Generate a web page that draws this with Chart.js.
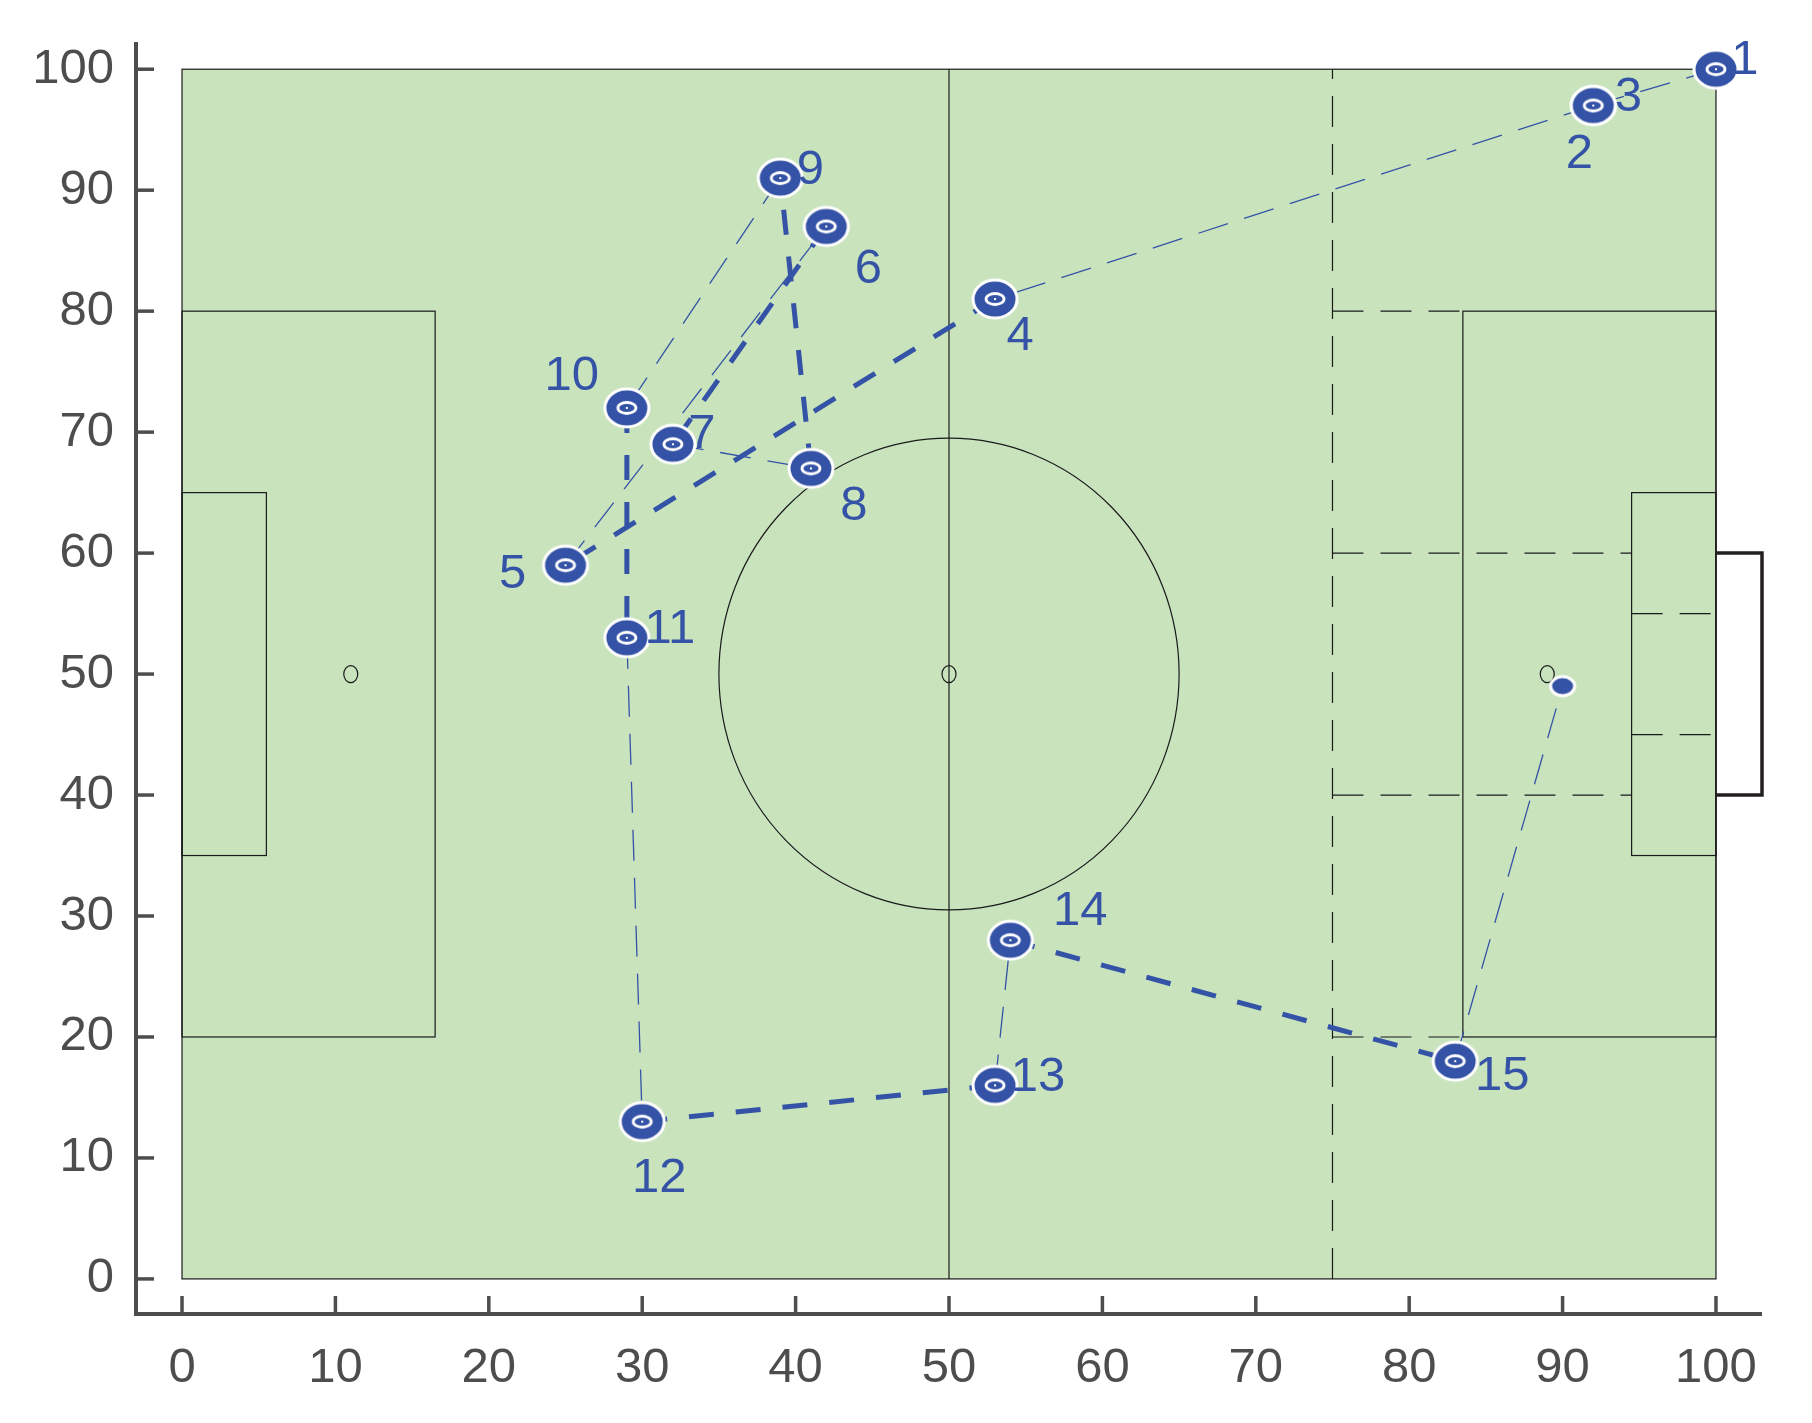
<!DOCTYPE html>
<html>
<head>
<meta charset="utf-8">
<script src="https://cdn.jsdelivr.net/npm/chart.js@4.4.1/dist/chart.umd.min.js"></script>
<style>
  body { margin: 0; background: #fff; }
</style>
</head>
<body>
<canvas id="pitch" width="1812" height="1423"></canvas>
<script>
// event positions on the pitch (0-100 both ways)
const eventX = [100, 92, 92, 53, 25, 42, 32, 41, 39, 29, 29, 30, 53, 54, 83, 90];
const eventY = [100, 97, 97, 81, 59, 87, 69, 67, 91, 72, 53, 13, 16, 28, 18, 49];
const eventLabels = ["1", "2", "3", "4", "5", "6", "7", "8", "9", "10", "11", "12", "13", "14", "15", ""];
// link i joins event i to event i+1
const linkType = ["pass", "carry", "pass", "carry", "pass", "carry", "pass", "carry",
                  "pass", "carry", "pass", "carry", "pass", "carry", "pass"];

const xTicks = [0, 10, 20, 30, 40, 50, 60, 70, 80, 90, 100];
const yTicks = [0, 10, 20, 30, 40, 50, 60, 70, 80, 90, 100];

// pitch markings
const solidBoxes = [[0, 0, 100, 100], [0, 20, 16.5, 80], [0, 35, 5.5, 65],
                    [83.5, 20, 100, 80], [94.5, 35, 100, 65]];
const solidLines = [[50, 0, 50, 100]];
const dashedLines = [[75, 0, 75, 100], [75, 80, 83.5, 80], [75, 20, 83.5, 20],
                     [75, 60, 94.5, 60], [75, 40, 94.5, 40],
                     [94.5, 55, 100, 55], [94.5, 45, 100, 45]];
const spots = [[11, 50], [50, 50], [89, 50]];
const goalLine = [[100, 60], [103, 60], [103, 40], [100, 40]];

// label offsets from the marker, in pixels
const labelOffset = [[29, -9], [-14, 49], [35, -8], [25, 37], [-53, 9], [42, 43], [29, -10],
                     [43, 38], [30, -8], [-55, -31], [43, -8], [17, 57], [43, -8], [70, -29], [47, 15], [0, 0]];

const BLUE = "#3553a6";
const FIELD = "#c9e3bd";
const AXIS = "#4d4d4d";
const FONT = "'Liberation Sans', Arial, Helvetica, sans-serif";

function makeMarker(rx, ry, ring) {
  const c = document.createElement("canvas");
  c.width = Math.ceil(rx * 2 + 8);
  c.height = Math.ceil(ry * 2 + 8);
  const g = c.getContext("2d");
  const cx = c.width / 2, cy = c.height / 2;
  g.beginPath();
  g.ellipse(cx, cy, rx, ry, 0, 0, Math.PI * 2);
  g.fillStyle = BLUE;
  g.fill();
  g.lineWidth = 3;
  g.strokeStyle = "#fff";
  g.stroke();
  if (ring) {
    g.beginPath();
    g.ellipse(cx, cy, 9, 5.5, 0, 0, Math.PI * 2);
    g.lineWidth = 2.8;
    g.stroke();
    g.fillStyle = "#fff";
    g.fillRect(cx - 1, cy - 1, 2, 2);
  }
  return c;
}

const bigMarker = makeMarker(22, 19, true);
const smallMarker = makeMarker(12, 9.5, false);

const points = eventX.map((x, i) => ({ x: x, y: eventY[i] }));

const datasets = [{
  label: "events",
  data: points,
  showLine: false,
  pointStyle: points.map((p, i) => i === points.length - 1 ? smallMarker : bigMarker),
  pointRadius: 20,
  pointHoverRadius: 20,
  clip: false,
  order: 0
}];

linkType.forEach((t, i) => {
  datasets.push({
    label: "link" + i,
    data: [points[i], points[i + 1]],
    showLine: true,
    borderColor: BLUE,
    borderWidth: t === "carry" ? 5 : 1.3,
    borderDash: t === "carry" ? [25, 22] : [31, 17],
    pointRadius: 0,
    pointHoverRadius: 0,
    fill: false,
    tension: 0,
    order: 1
  });
});

const pitchPlugin = {
  id: "pitchPlugin",
  beforeDatasetsDraw(chart) {
    const { ctx, scales: { x, y } } = chart;
    const px = v => x.getPixelForValue(v);
    const py = v => y.getPixelForValue(v);
    ctx.save();
    ctx.fillStyle = FIELD;
    ctx.fillRect(px(0), py(100), px(100) - px(0), py(0) - py(100));

    ctx.strokeStyle = "#1a1a1a";
    ctx.lineWidth = 1.2;
    solidBoxes.forEach(b => {
      ctx.strokeRect(px(b[0]), py(b[3]), px(b[2]) - px(b[0]), py(b[1]) - py(b[3]));
    });
    solidLines.forEach(l => {
      ctx.beginPath();
      ctx.moveTo(px(l[0]), py(l[1]));
      ctx.lineTo(px(l[2]), py(l[3]));
      ctx.stroke();
    });
    // centre circle
    ctx.beginPath();
    ctx.ellipse(px(50), py(50), px(65) - px(50), py(50) - py(69.5), 0, 0, Math.PI * 2);
    ctx.stroke();
    spots.forEach(s => {
      ctx.beginPath();
      ctx.ellipse(px(s[0]), py(s[1]), 7, 8.5, 0, 0, Math.PI * 2);
      ctx.stroke();
    });
    ctx.setLineDash([31, 17]);
    dashedLines.forEach(l => {
      ctx.beginPath();
      ctx.moveTo(px(l[0]), py(l[1]));
      ctx.lineTo(px(l[2]), py(l[3]));
      ctx.stroke();
    });
    ctx.setLineDash([]);
    // goal
    ctx.strokeStyle = "#231f20";
    ctx.lineWidth = 3.5;
    ctx.lineJoin = "miter";
    ctx.beginPath();
    goalLine.forEach((p, i) => {
      if (i === 0) ctx.moveTo(px(p[0]), py(p[1]));
      else ctx.lineTo(px(p[0]), py(p[1]));
    });
    ctx.stroke();

    // axes
    const left = chart.chartArea.left, bottom = chart.chartArea.bottom;
    ctx.strokeStyle = AXIS;
    ctx.lineWidth = 4;
    ctx.beginPath();
    ctx.moveTo(left, chart.chartArea.top);
    ctx.lineTo(left, bottom);
    ctx.lineTo(chart.chartArea.right, bottom);
    ctx.stroke();
    ctx.lineWidth = 3.5;
    xTicks.forEach(v => {
      ctx.beginPath();
      ctx.moveTo(px(v), bottom);
      ctx.lineTo(px(v), bottom - 18);
      ctx.stroke();
    });
    yTicks.forEach(v => {
      ctx.beginPath();
      ctx.moveTo(left, py(v));
      ctx.lineTo(left + 18, py(v));
      ctx.stroke();
    });
    ctx.fillStyle = AXIS;
    ctx.font = "49px " + FONT;
    ctx.textBaseline = "middle";
    ctx.textAlign = "center";
    xTicks.forEach(v => ctx.fillText(String(v), px(v), bottom + 54));
    ctx.textAlign = "right";
    yTicks.forEach(v => ctx.fillText(String(v), left - 22, py(v)));
    ctx.restore();
  },
  afterDatasetsDraw(chart) {
    const { ctx, scales: { x, y } } = chart;
    ctx.save();
    ctx.fillStyle = BLUE;
    ctx.font = "49px " + FONT;
    ctx.textAlign = "center";
    ctx.textBaseline = "middle";
    eventLabels.forEach((t, i) => {
      if (!t) return;
      ctx.fillText(t, x.getPixelForValue(eventX[i]) + labelOffset[i][0],
                      y.getPixelForValue(eventY[i]) + labelOffset[i][1]);
    });
    ctx.restore();
  }
};

new Chart(document.getElementById("pitch").getContext("2d"), {
  type: "scatter",
  data: { datasets: datasets },
  options: {
    responsive: false,
    animation: false,
    layout: { padding: { left: 136, right: 50, top: 42, bottom: 109 } },
    scales: {
      x: { type: "linear", min: -3, max: 103, display: false },
      y: { type: "linear", min: -2.9, max: 102.25, display: false }
    },
    plugins: {
      legend: { display: false },
      tooltip: { enabled: false }
    },
    events: []
  },
  plugins: [pitchPlugin]
});
</script>
</body>
</html>
